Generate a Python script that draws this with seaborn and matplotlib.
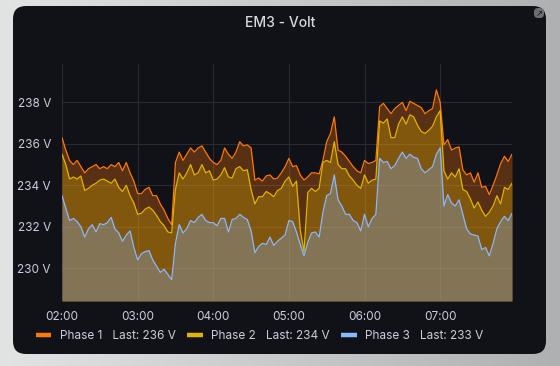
import numpy as np
import pandas as pd
import seaborn as sns
import matplotlib.pyplot as plt
import matplotlib.dates as mdates
from matplotlib.patches import FancyBboxPatch
from matplotlib.lines import Line2D
from matplotlib.colors import LinearSegmentedColormap

# voltage readings every 3 min, 02:00 -> 07:57
phase1 = [236.3, 235.7, 235.2, 235.0, 235.2, 234.9, 234.6, 234.8, 234.9, 235.0,
          234.8, 234.9, 234.8, 235.0, 234.9, 235.1, 234.7, 235.1, 234.6, 234.2,
          233.6, 233.6, 233.8, 233.9, 233.5, 233.5, 233.1, 232.8, 232.4, 232.1,
          235.1, 235.6, 235.2, 235.5, 235.8, 235.6, 235.8, 235.9, 235.6, 235.3,
          235.1, 235.0, 235.2, 235.8, 235.5, 235.3, 235.6, 236.1, 235.9, 235.95,
          235.8, 234.25, 234.35, 234.2, 234.45, 234.5, 234.3, 234.35, 234.6, 234.9,
          235.3, 234.9, 234.95, 234.5, 234.25, 234.4, 234.6, 234.6, 234.55, 235.2,
          236.1, 236.5, 237.3, 235.7, 235.6, 235.4, 235.15, 234.9, 234.7, 234.6,
          235.2, 235.05, 235.1, 235.2, 237.8, 237.95, 237.7, 237.45, 237.7, 237.85,
          238.0, 237.6, 238.05, 237.95, 237.85, 237.75, 237.45, 237.6, 237.7, 238.6,
          238.0, 235.95, 236.2, 235.7, 235.8, 235.85, 234.75, 234.5, 234.6, 234.15,
          234.6, 233.9, 233.95, 233.55, 234.0, 234.5, 235.05, 235.4, 235.15, 235.5]
phase2 = [235.5, 235.0, 234.3, 234.4, 234.3, 234.45, 233.75, 233.85, 234.0, 234.1,
          234.25, 234.3, 234.2, 234.1, 234.3, 233.9, 233.7, 234.0, 233.5, 233.15,
          232.6, 232.65, 232.85, 232.95, 232.8, 232.55, 232.25, 232.05, 231.75, 231.7,
          233.8, 234.6, 234.3, 234.6, 235.0, 234.5, 234.6, 235.0, 234.6, 234.7,
          234.25, 234.3, 234.5, 234.85, 234.4, 234.35, 234.8, 234.9, 234.7, 234.75,
          233.8, 233.1, 233.45, 233.45, 233.7, 233.6, 233.45, 233.75, 233.85, 234.2,
          234.4, 233.95, 234.2, 231.85, 230.8, 233.65, 233.85, 233.7, 233.85, 235.1,
          235.2, 235.1, 236.1, 235.0, 234.8, 234.8, 234.45, 234.25, 234.0, 233.85,
          234.5, 234.1, 234.25, 234.3, 237.1, 237.0, 237.2, 236.3, 236.3, 236.95,
          237.3, 236.95, 237.4, 237.3, 236.9, 236.6, 236.5, 236.65, 236.85, 237.3,
          237.6, 234.7, 234.3, 234.6, 234.4, 234.8, 233.8, 233.7, 233.35, 232.9,
          233.2, 232.8, 232.5, 232.7, 233.0, 233.5, 233.1, 233.9, 233.8, 234.1]
phase3 = [233.5, 232.9, 232.3, 232.4, 232.25, 232.0, 231.5, 231.9, 232.1, 231.75,
          232.15, 232.1, 232.2, 232.45, 231.9, 231.7, 231.3, 231.6, 231.8, 231.0,
          230.4, 230.7, 230.8, 230.85, 230.4, 230.1, 229.8, 229.95, 229.7, 229.45,
          231.2, 232.1, 231.7, 231.9, 232.3, 232.2, 232.45, 232.6, 232.3, 232.2,
          232.2, 232.05, 232.4, 232.4, 231.75, 232.35, 232.4, 232.6, 232.45, 232.35,
          231.8, 230.75, 231.05, 231.2, 231.15, 231.5, 231.1, 231.3, 231.45, 231.6,
          232.3, 232.25, 231.75, 231.15, 230.6, 231.25, 231.7, 231.75, 231.5, 232.7,
          233.5, 233.6, 234.5, 233.3, 233.0, 232.6, 232.6, 232.3, 232.2, 231.8,
          232.6, 232.0, 232.4, 232.6, 235.3, 235.1, 235.15, 234.8, 234.95, 235.3,
          235.6, 235.3, 235.5, 235.35, 235.3, 234.8, 234.6, 234.75, 234.9, 235.5,
          235.8, 233.0, 233.55, 233.15, 233.0, 233.3, 232.6, 231.9, 231.65, 231.6,
          231.55, 230.9, 231.0, 230.6, 231.2, 231.9, 232.25, 232.5, 232.3, 232.65]
phase_names = ['Phase 1', 'Phase 2', 'Phase 3']
phase_colors = ['#FF780A', '#E0B400', '#8AB8FF']
y_ticks = [230, 232, 234, 236, 238]
y_low, y_high = 228.42, 239.85

times = pd.date_range('2024-01-01 02:00', periods=len(phase1), freq='3min')
values = [phase1, phase2, phase3]
df = pd.DataFrame({
    'time': np.tile(times, 3),
    'volt': np.concatenate(values),
    'phase': np.repeat(phase_names, len(times)),
})

sns.set_theme(style='dark')
plt.rcParams['font.family'] = ['Inter', 'DejaVu Sans']
text_col = '#ccccdc'

fig = plt.figure(figsize=(5.6, 3.66), dpi=100)

# page background + rounded dark panel
bg = fig.add_axes([0, 0, 1, 1])
bg.set_xlim(0, 560)
bg.set_ylim(366, 0)
bg.axis('off')
cmap = LinearSegmentedColormap.from_list('bg', ['#e2e4e4', '#aeb0b1'])
bg.imshow(np.linspace(0, 1, 256)[None, :], cmap=cmap, extent=[0, 560, 366, 0], aspect='auto')
bg.add_patch(FancyBboxPatch((13, 6), 533, 348, boxstyle='round,pad=0,rounding_size=13',
                            fc='#111217', ec='none'))
bg.add_patch(FancyBboxPatch((534, 8), 10, 10, boxstyle='round,pad=0,rounding_size=4',
                            fc='#6c6d70', ec='none'))
bg.text(539, 13.5, '↗', ha='center', va='center', fontsize=6, color='#111217',
        family=['DejaVu Sans'])
bg.text(280, 23, 'EM3 - Volt', ha='center', va='center', fontsize=10,
        color='#d8d9e0', weight='medium')

ax = fig.add_axes([62 / 560, 1 - 301 / 366, 450 / 560, 237 / 366])
ax.set_facecolor('none')

for name, col, v in zip(phase_names, phase_colors, values):
    ax.fill_between(times, v, y_low, color=col, alpha=0.3, lw=0)
sns.lineplot(data=df, x='time', y='volt', hue='phase', palette=dict(zip(phase_names, phase_colors)),
             estimator=None, lw=0.9, legend=False, ax=ax)

ax.set_xlim(times[0], times[-1])
ax.set_ylim(y_low, y_high)
ax.set_yticks(y_ticks)
ax.set_yticklabels(['{} V'.format(t) for t in y_ticks])
ax.xaxis.set_major_locator(mdates.HourLocator())
ax.xaxis.set_major_formatter(mdates.DateFormatter('%H:%M'))
ax.set_xlabel('')
ax.set_ylabel('')
ax.tick_params(axis='both', length=0, labelsize=8.5, labelcolor=text_col)
ax.tick_params(axis='y', pad=8)
ax.tick_params(axis='x', pad=7)
ax.grid(True, color='#2a2b31', lw=0.8)
ax.set_axisbelow(True)
for s in ax.spines.values():
    s.set_visible(False)

handles = [Line2D([], [], color=c, lw=3.2, solid_capstyle='butt') for c in phase_colors]
labels = ['{}   Last: {:.0f} V'.format(n, v[-1]) for n, v in zip(phase_names, values)]
fig.legend(handles, labels, loc='center left', bbox_to_anchor=(36 / 560, 1 - 336 / 366),
           ncol=3, frameon=False, handlelength=1.3, handletextpad=0.7, columnspacing=1.0,
           fontsize=8.5, labelcolor=text_col, borderaxespad=0, borderpad=0)

plt.savefig('out.png', dpi=100)
